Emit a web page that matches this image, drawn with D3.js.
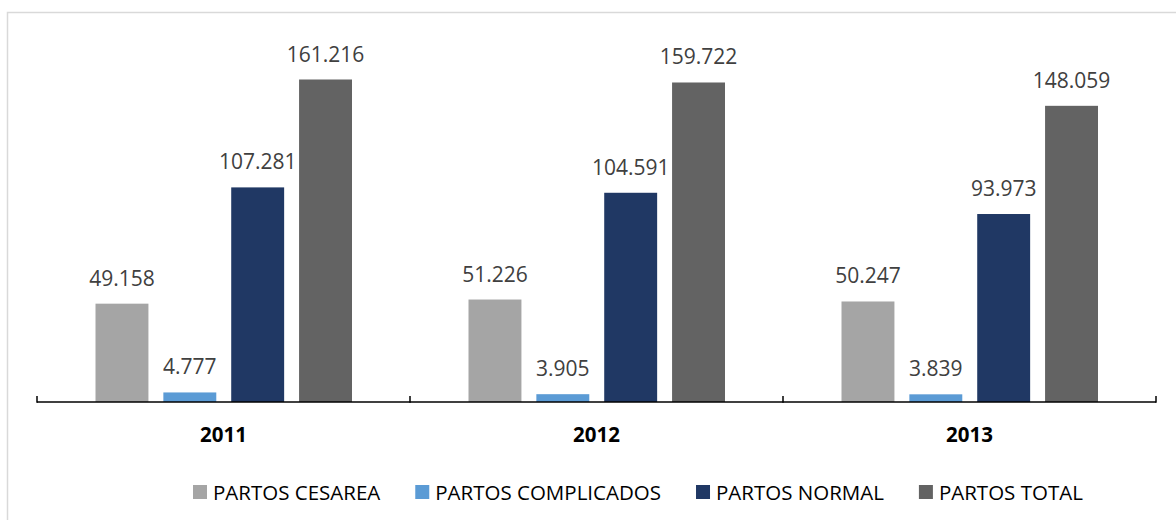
<html>
<head>
    <script src="https://cdn.jsdelivr.net/npm/d3@7"></script>
    <style>
        body { margin: 0; background: #fff; }
        text { font-family: "Open Sans", sans-serif; }
    </style>
</head>
<body>

<svg width="1176" height="520"></svg>

<script>
    const years = ["2011", "2012", "2013"];
    const series = ["PARTOS CESAREA", "PARTOS COMPLICADOS", "PARTOS NORMAL", "PARTOS TOTAL"];
    const cesarea = [49158, 51226, 50247];
    const complicados = [4777, 3905, 3839];
    const normal = [107281, 104591, 93973];
    const total = [161216, 159722, 148059];
    const colors = ["#A5A5A5", "#5B9BD5", "#203864", "#636363"];

    const values = [cesarea, complicados, normal, total];
    const data = years.map((y, i) => ({
        year: y,
        bars: series.map((s, j) => ({key: s, value: values[j][i]}))
    }));

    const svg = d3.select("svg");

    // chart frame (runs off the right and bottom edges)
    svg.append("rect")
        .attr("x", 7.5).attr("y", 12.5)
        .attr("width", 1200).attr("height", 540)
        .attr("fill", "none")
        .attr("stroke", "#D9D9D9")
        .attr("stroke-width", 1.5);

    const baseY = 402;
    const x0 = d3.scaleBand().domain(years).range([37, 1156]);
    const x1 = d3.scaleBand().domain(series)
        .range([58.5, 315]).paddingInner(0.22);
    const y = d3.scaleLinear().domain([0, 161216]).range([baseY, 79.5]);
    const color = d3.scaleOrdinal().domain(series).range(colors);

    const groups = svg.append("g")
        .selectAll("g")
        .data(data)
        .enter()
        .append("g")
        .attr("transform", d => `translate(${x0(d.year)},0)`);

    groups.selectAll("rect")
        .data(d => d.bars)
        .enter()
        .append("rect")
        .attr("x", d => x1(d.key))
        .attr("width", x1.bandwidth())
        .attr("y", d => y(d.value))
        .attr("height", d => baseY - y(d.value))
        .attr("fill", d => color(d.key));

    groups.selectAll("text.val")
        .data(d => d.bars)
        .enter()
        .append("text")
        .attr("class", "val")
        .attr("x", d => x1(d.key) + x1.bandwidth() / 2)
        .attr("y", d => y(d.value) - 18)
        .attr("text-anchor", "middle")
        .attr("font-size", "21px")
        .attr("fill", "#404040")
        .text(d => d3.format(",")(d.value).replace(/,/g, "."));

    // x axis with ticks pointing up
    const axis = svg.append("g")
        .attr("transform", `translate(0,${baseY})`);
    axis.append("line")
        .attr("x1", 37).attr("x2", 1156)
        .attr("stroke", "#000").attr("stroke-width", 1.5);
    const tickXs = years.map(d => x0(d)).concat([x0(years[years.length - 1]) + x0.bandwidth()]);
    axis.selectAll("line.tick")
        .data(tickXs)
        .enter()
        .append("line")
        .attr("class", "tick")
        .attr("x1", d => d).attr("x2", d => d)
        .attr("y1", -6).attr("y2", 0.75)
        .attr("stroke", "#000").attr("stroke-width", 1.5);

    svg.append("g")
        .selectAll("text")
        .data(years)
        .enter()
        .append("text")
        .attr("x", d => x0(d) + x0.bandwidth() / 2)
        .attr("y", 442)
        .attr("text-anchor", "middle")
        .attr("font-size", "20.5px")
        .attr("font-weight", "bold")
        .attr("fill", "#000")
        .text(d => d);

    // legend
    const legend = svg.append("g");
    let lx = 193;
    series.forEach(s => {
        legend.append("rect")
            .attr("x", lx).attr("y", 485)
            .attr("width", 14).attr("height", 14)
            .attr("fill", color(s));
        const t = legend.append("text")
            .attr("x", lx + 20)
            .attr("y", 499.5)
            .attr("font-size", "20.5px")
            .attr("fill", "#000")
            .text(s);
        lx += 20 + t.node().getComputedTextLength() + 35;
    });
</script>

</body>
</html>
